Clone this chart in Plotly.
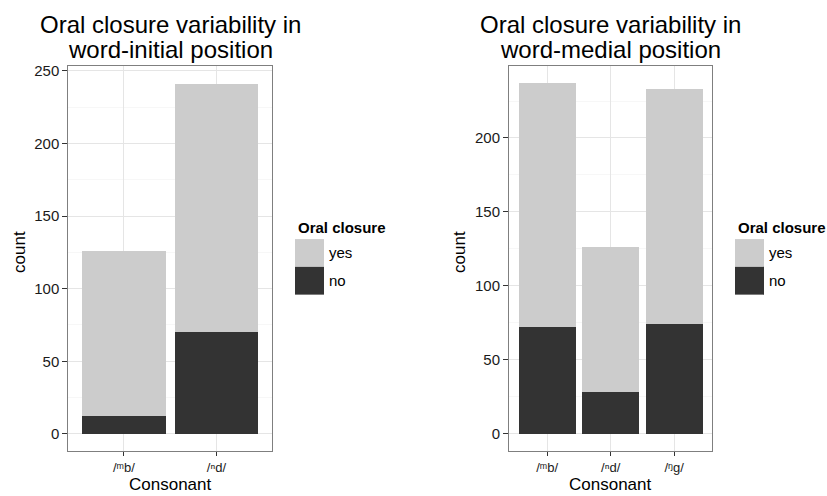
import plotly.graph_objects as go
from plotly.subplots import make_subplots

# ---- data ----
left_categories = ["/ᵐb/", "/ⁿd/"]
left_no = [12, 70]
left_yes = [114, 171]

right_categories = ["/ᵐb/", "/ⁿd/", "/ᵑg/"]
right_no = [72, 28, 74]
right_yes = [165, 98, 159]

left_title = ["Oral closure variability in", "word-initial position"]
right_title = ["Oral closure variability in", "word-medial position"]
legend_title = "Oral closure"
legend_labels = ["yes", "no"]
x_title = "Consonant"
y_title = "count"

COL_YES = "#cccccc"
COL_NO = "#333333"
W, H = 827, 496
FONT = "Liberation Sans, Arial, Helvetica, DejaVu Sans, sans-serif"


def px(x):
    return x / W


def py(y):
    return 1 - y / H


fig = make_subplots(rows=1, cols=2)

for col, cats, no, yes in [(1, left_categories, left_no, left_yes),
                           (2, right_categories, right_no, right_yes)]:
    fig.add_trace(go.Bar(x=cats, y=no, name="no", marker=dict(color=COL_NO, line=dict(width=0)),
                         showlegend=False, hoverinfo="x+y"), row=1, col=col)
    fig.add_trace(go.Bar(x=cats, y=yes, name="yes", marker=dict(color=COL_YES, line=dict(width=0)),
                         showlegend=False, hoverinfo="x+y"), row=1, col=col)

fig.update_layout(barmode="stack", bargap=0.1, width=W, height=H,
                  margin=dict(l=0, r=0, t=0, b=0),
                  paper_bgcolor="white", plot_bgcolor="white",
                  font=dict(family=FONT, color="black"))

panels = {
    1: dict(x0=68.3, x1=272.0, y0=63.0, y1=451.0, cats=left_categories,
            tot=max(a + b for a, b in zip(left_no, left_yes))),
    2: dict(x0=509.0, x1=712.3, y0=62.3, y1=450.7, cats=right_categories,
            tot=max(a + b for a, b in zip(right_no, right_yes))),
}

axis_common = dict(showline=True, mirror=True, linecolor="#7f7f7f", linewidth=1,
                   ticks="outside", tickcolor="#333333", tickwidth=1,
                   gridcolor="#e5e5e5", gridwidth=1, zeroline=False)

for col, p in panels.items():
    n = len(p["cats"])
    xa = "xaxis" if col == 1 else "xaxis2"
    ya = "yaxis" if col == 1 else "yaxis2"
    fig.update_layout(**{
        xa: dict(domain=[px(p["x0"]), px(p["x1"])], range=[-0.6, n - 0.4],
                 type="category", showgrid=True, ticklen=4,
                 tickfont=dict(size=13, color="#1a1a1a", family=FONT), **axis_common),
        ya: dict(domain=[py(p["y1"]), py(p["y0"])],
                 range=[-0.05 * p["tot"], 1.05 * p["tot"]],
                 dtick=50, tick0=0, showgrid=True, ticklen=5,
                 minor=dict(dtick=25, showgrid=True, gridcolor="#f7f7f7", ticks=""),
                 tickfont=dict(size=15, color="#1a1a1a", family=FONT), **axis_common),
    })

annotations = []
shapes = []


def txt(text, x, y, size, xanchor="center", yanchor="middle", bold=False, angle=0):
    annotations.append(dict(text=f"<b>{text}</b>" if bold else text,
                            x=px(x), y=py(y), xref="paper", yref="paper",
                            xanchor=xanchor, yanchor=yanchor, showarrow=False,
                            textangle=angle,
                            font=dict(size=size, family=FONT, color="black")))


# titles
for title, p in [(left_title, panels[1]), (right_title, panels[2])]:
    cx = (p["x0"] + p["x1"]) / 2
    txt(title[0], cx, 21, 24)
    txt(title[1], cx, 46, 24)
    txt(x_title, cx, 496, 17, yanchor="bottom")

txt(y_title, 20, 250, 17, angle=-90)
txt(y_title, 460, 250, 17, angle=-90)

# legends
for lx in [295.0, 735.0]:
    txt(legend_title, lx + 1, 225, 15, xanchor="left", bold=True)
    for i, (lab, colr) in enumerate(zip(legend_labels, [COL_YES, COL_NO])):
        top = 237 + 28 * i
        shapes.append(dict(type="rect", xref="paper", yref="paper",
                           x0=px(lx), x1=px(lx + 29), y0=py(top + 28), y1=py(top),
                           fillcolor=colr, line=dict(width=0)))
        txt(lab, lx + 32, top + 14, 15, xanchor="left")

fig.update_layout(annotations=annotations, shapes=shapes)

fig.write_html("out.html", config={"displayModeBar": False},
               post_script="document.body.style.margin='0';document.body.style.padding='0';"
                           "document.documentElement.style.overflow='hidden';")
